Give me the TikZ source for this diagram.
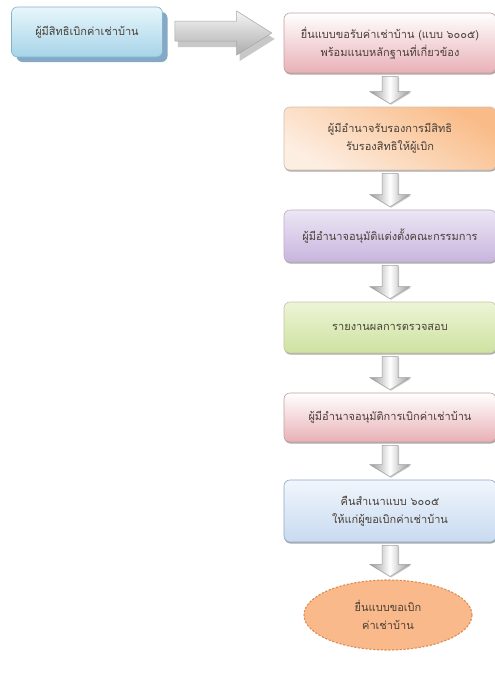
\documentclass[tikz,border=0pt]{standalone}
\usepackage{fontspec}
\newfontfamily\thai[Script=Thai]{Loma}
\usetikzlibrary{shapes.geometric,calc,shadows}
\definecolor{txt}{HTML}{4A4038}
\tikzset{
  thaitext/.style={font=\thai\fontsize{11}{18}\selectfont, text=txt},
  flowbox/.style={thaitext, rounded corners=6pt, minimum width=212pt, align=center, line width=0.6pt,
    drop shadow={shadow xshift=0.6pt, shadow yshift=-1.6pt, fill=black!55, opacity=0.6}},
  pinkbox/.style={flowbox, draw=red!25!gray!60, top color=white, bottom color={rgb,255:red,232;green,176;blue,182}},
  orangebox/.style={flowbox, draw=orange!30!gray!50, top color={rgb,255:red,249;green,188;blue,136}, bottom color={rgb,255:red,253;green,238;blue,226}, shading angle=330},
  purplebox/.style={flowbox, draw=violet!25!gray!50, top color={rgb,255:red,236;green,230;blue,244}, bottom color={rgb,255:red,200;green,180;blue,222}},
  greenbox/.style={flowbox, draw=olive!40!gray!50, top color={rgb,255:red,236;green,244;blue,214}, bottom color={rgb,255:red,206;green,226;blue,160}},
  bluebox/.style={flowbox, draw={rgb,255:red,140;green,168;blue,200}, top color={rgb,255:red,240;green,246;blue,252}, bottom color={rgb,255:red,200;green,218;blue,240}},
  startbox/.style={thaitext, rounded corners=6pt, minimum width=151pt, minimum height=50pt, align=center, line width=0.6pt,
    draw={rgb,255:red,130;green,180;blue,200}, top color={rgb,255:red,232;green,246;blue,251}, bottom color={rgb,255:red,166;green,212;blue,232},
    drop shadow={shadow xshift=5pt, shadow yshift=-5pt, fill={rgb,255:red,92;green,140;blue,180}, opacity=0.75}},
  endoval/.style={thaitext, ellipse, minimum width=168pt, minimum height=70pt, align=center,
    fill={rgb,255:red,249;green,185;blue,138},
    draw={rgb,255:red,222;green,140;blue,80}, line width=1.1pt, dash pattern=on 2.2pt off 1.6pt},
  blockarrow/.style={draw=gray!75, line width=0.5pt, left color=gray!80, right color=gray!80, middle color=white,
    drop shadow={shadow xshift=1pt, shadow yshift=-1pt, fill=black!40, opacity=0.5}},
  bigarrow/.style={draw=gray!70, line width=0.5pt, top color=gray!8, bottom color=gray!65,
    drop shadow={shadow xshift=3pt, shadow yshift=-6pt, fill=gray!60, opacity=0.7}}
}
\newcommand\blockdown[2]{%
  \path[blockarrow] let \p1=(#1.south), \p2=(#2.north) in
    (\x1-8pt,\y1-3pt) -- (\x1+8pt,\y1-3pt) -- (\x1+8pt,\y2+15pt) -- (\x1+20pt,\y2+15pt)
    -- (\x1,\y2+3pt) -- (\x1-20pt,\y2+15pt) -- (\x1-8pt,\y2+15pt) -- cycle;}
\begin{document}
\begin{tikzpicture}[x=1pt,y=-1pt]
\useasboundingbox (0,0) rectangle (495,673);
\fill[white] (0,0) rectangle (495,673);
\node[startbox] (b1) at (87,32) {ผู้มีสิทธิเบิกค่าเช่าบ้าน};
\node[pinkbox, minimum height=60pt] (b2) at (390,43) {ยื่นแบบขอรับค่าเช่าบ้าน (แบบ ๖๐๐๕)\\พร้อมแนบหลักฐานที่เกี่ยวข้อง};
\node[orangebox, minimum height=63pt] (b3) at (390,138.5) {ผู้มีอำนาจรับรองการมีสิทธิ\\รับรองสิทธิให้ผู้เบิก};
\node[purplebox, minimum height=52pt] (b4) at (390,236) {ผู้มีอำนาจอนุมัติแต่งตั้งคณะกรรมการ};
\node[greenbox, minimum height=51pt] (b5) at (390,327.5) {รายงานผลการตรวจสอบ};
\node[pinkbox, minimum height=49pt] (b6) at (390,417.5) {ผู้มีอำนาจอนุมัติการเบิกค่าเช่าบ้าน};
\node[bluebox, minimum height=62pt] (b7) at (390,511) {คืนสำเนาแบบ ๖๐๐๕\\ให้แก่ผู้ขอเบิกค่าเช่าบ้าน};
\node[endoval] (e) at (388,615) {ยื่นแบบขอเบิก\\ค่าเช่าบ้าน};
% big right arrow
\path[bigarrow] let \p1=(b1.east), \p2=(b2.west) in
  (\x1+12pt,\y1+11pt) -- (\x2-47pt,\y1+11pt) -- (\x2-47pt,\y1+21pt) -- (\x2-12pt,\y1-1pt)
  -- (\x2-47pt,\y1-23pt) -- (\x2-47pt,\y1-9pt) -- (\x1+12pt,\y1-9pt) -- cycle;
\blockdown{b2}{b3}
\blockdown{b3}{b4}
\blockdown{b4}{b5}
\blockdown{b5}{b6}
\blockdown{b6}{b7}
\blockdown{b7}{e}
\end{tikzpicture}
\end{document}
